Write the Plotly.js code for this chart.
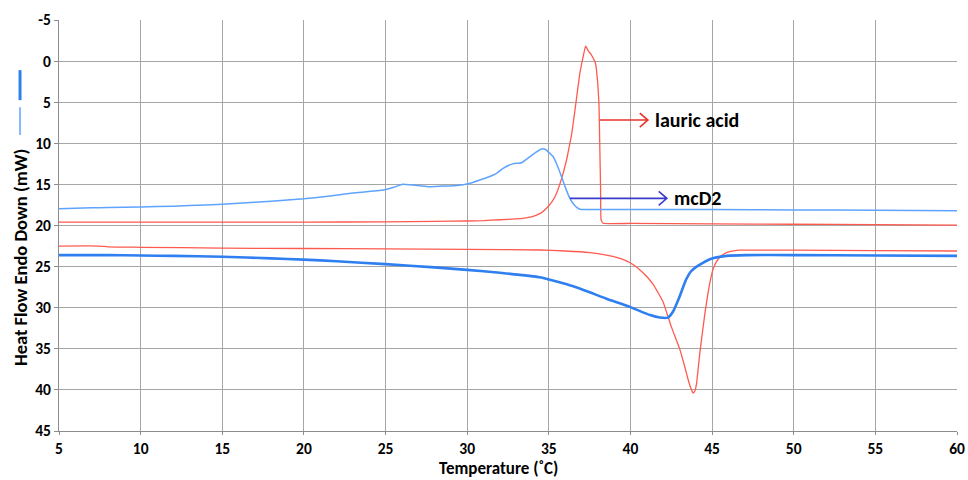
<!DOCTYPE html>
<html><head><meta charset="utf-8">
<script src="https://cdn.plot.ly/plotly-3.0.1.min.js"></script>
<style>html,body{margin:0;padding:0;background:#fff}#chart{width:968px;height:480px}</style>
</head><body><div id="chart"></div>
<script>
// mcD2 heating (thin light blue)
const mcHeatX = [5, 6, 7, 8, 10, 12, 14, 16, 18, 20, 21.6, 23, 24.86, 25.5, 26.0, 26.5, 27.1, 27.7, 28.5, 29.2, 29.76, 30.3, 30.78, 31.3, 31.8, 32.2, 32.8, 33.33, 33.84, 34.2, 34.55, 34.8, 35.0, 35.27, 35.5, 35.78, 36.0, 36.29, 36.6, 36.9, 37.5, 40, 45, 50, 55, 60];
const mcHeatY = [17.95, 17.9, 17.85, 17.82, 17.75, 17.65, 17.5, 17.3, 17.05, 16.75, 16.4, 16.05, 15.68, 15.35, 15.0, 15.05, 15.16, 15.28, 15.2, 15.15, 15.03, 14.8, 14.46, 14.1, 13.65, 13.04, 12.5, 12.36, 11.63, 11.1, 10.69, 10.75, 11.1, 11.63, 12.6, 14.06, 15.3, 16.7, 17.6, 18.03, 18.05, 18.05, 18.05, 18.1, 18.15, 18.2];
// lauric acid heating (thin red)
const laHeatX = [5, 10, 15, 20, 25, 28, 30, 31, 32, 33, 33.5, 34.04, 34.5, 34.86, 35.2, 35.47, 35.78, 36.09, 36.39, 36.6, 36.9, 37.1, 37.25, 37.35, 37.45, 37.6, 37.72, 37.85, 37.92, 38.0, 38.07, 38.1, 38.13, 38.17, 38.2, 38.33, 40, 45, 50, 55, 60];
const laHeatY = [19.6, 19.6, 19.6, 19.6, 19.55, 19.5, 19.45, 19.4, 19.3, 19.2, 19.1, 18.9, 18.5, 17.9, 17.1, 16.1, 14.3, 12.0, 9.0, 6.0, 1.5, -0.5, -1.84, -1.5, -1.15, -0.8, -0.34, 0.2, 1.08, 2.8, 5.13, 8.0, 11.2, 15.5, 19.3, 19.73, 19.75, 19.8, 19.85, 19.9, 19.95];
// lauric acid cooling (thin red)
const laCoolX = [5, 7.5, 8, 10, 15, 20, 25, 30, 34.45, 36, 37.5, 38.53, 39.2, 39.75, 40.2, 40.58, 41.0, 41.4, 42.0, 42.5, 43.03, 43.3, 43.54, 43.7, 43.84, 43.95, 44.05, 44.25, 44.56, 44.86, 45.05, 45.27, 45.5, 45.88, 46.3, 46.7, 48, 50, 55, 60];
const laCoolY = [22.5, 22.5, 22.6, 22.65, 22.75, 22.8, 22.85, 22.9, 22.98, 23.1, 23.3, 23.6, 23.9, 24.3, 24.8, 25.4, 26.2, 27.2, 29.3, 32.3, 35.1, 37.0, 38.8, 39.8, 40.4, 40.1, 39.2, 35.5, 30.7, 27.0, 25.4, 24.4, 23.8, 23.3, 23.1, 23.0, 23.0, 23.0, 23.05, 23.1];
// mcD2 cooling (thick blue)
const mcCoolX = [5, 8, 10, 12, 15, 18, 20, 22, 25, 28, 30, 32, 34.45, 36.5, 38.53, 39.97, 41.2, 41.8, 42.3, 42.6, 43.0, 43.4, 43.7, 44.05, 44.86, 45.88, 47.1, 50, 55, 60];
const mcCoolY = [23.6, 23.6, 23.65, 23.7, 23.8, 24.0, 24.15, 24.35, 24.7, 25.1, 25.4, 25.75, 26.3, 27.4, 28.9, 29.9, 30.9, 31.2, 31.2, 30.5, 28.7, 26.6, 25.6, 25.0, 24.1, 23.7, 23.6, 23.6, 23.65, 23.7];
// labels
const xTicks = [5, 10, 15, 20, 25, 30, 35, 40, 45, 50, 55, 60];
const yTicks = [-5, 0, 5, 10, 15, 20, 25, 30, 35, 40, 45];
const lauricArrow = {x0: 38.13, x1: 41.07, y: 7.17, label: 'lauric acid'};
const mcArrow = {x0: 36.29, x1: 42.23, y: 16.7, label: 'mcD2'};

const FONT = "Carlito, Calibri, 'Liberation Sans Narrow', 'Open Sans', sans-serif";
const RED = '#ff5a4f', THIN_BLUE = '#5ea4ff', THICK_BLUE = '#2f7ff0';

const traces = [
  {x: laCoolX, y: laCoolY, mode: 'lines', line: {color: RED, width: 1.3, shape: 'spline', smoothing: 0.4}},
  {x: laHeatX, y: laHeatY, mode: 'lines', line: {color: RED, width: 1.3, shape: 'spline', smoothing: 0.3}},
  {x: mcHeatX, y: mcHeatY, mode: 'lines', line: {color: THIN_BLUE, width: 1.5, shape: 'spline', smoothing: 0.4}},
  {x: mcCoolX, y: mcCoolY, mode: 'lines', line: {color: THICK_BLUE, width: 2.6, shape: 'spline', smoothing: 0.5}}
];

function arrowPath(a, dx, dy) {
  return `M${a.x0},${a.y} L${a.x1},${a.y} M${a.x1 - dx},${a.y - dy} L${a.x1},${a.y} L${a.x1 - dx},${a.y + dy}`;
}

const tickFont = {family: FONT, size: 15.5, weight: 'bold', color: '#000'};
const layout = {
  width: 968, height: 480,
  margin: {l: 59, r: 11, t: 20, b: 49},
  paper_bgcolor: '#fff', plot_bgcolor: '#fff',
  showlegend: false,
  font: {family: FONT, color: '#000'},
  xaxis: {
    range: [5, 60], tickvals: xTicks, ticktext: xTicks.map(String),
    showgrid: true, gridcolor: '#a6a6a6', gridwidth: 1,
    showline: true, linecolor: '#8c8c8c', linewidth: 1,
    ticks: 'outside', ticklen: 3, tickcolor: '#8c8c8c',
    tickfont: tickFont, zeroline: false
  },
  yaxis: {
    range: [45, -5], tickvals: yTicks, ticktext: yTicks.map(String),
    showgrid: true, gridcolor: '#a6a6a6', gridwidth: 1,
    showline: true, linecolor: '#8c8c8c', linewidth: 1,
    ticks: 'outside', ticklen: 4, tickcolor: '#8c8c8c',
    tickfont: tickFont, zeroline: false
  },
  shapes: [
    {type: 'path', xref: 'x', yref: 'y', path: arrowPath(lauricArrow, 0.5, 0.85), line: {color: '#e8352c', width: 1.6}},
    {type: 'path', xref: 'x', yref: 'y', path: arrowPath(mcArrow, 0.5, 0.85), line: {color: '#3a3acb', width: 1.6}},
    {type: 'line', xref: 'paper', yref: 'paper', x0: -0.0434, x1: -0.0434, y0: 0.878, y1: 0.805, line: {color: THICK_BLUE, width: 3}},
    {type: 'line', xref: 'paper', yref: 'paper', x0: -0.0434, x1: -0.0434, y0: 0.788, y1: 0.720, line: {color: THIN_BLUE, width: 1.5}}
  ],
  annotations: [
    {x: lauricArrow.x1 + 0.3, y: lauricArrow.y, xref: 'x', yref: 'y', xanchor: 'left', yanchor: 'middle', showarrow: false,
     text: lauricArrow.label, font: {family: FONT, size: 20, weight: 'bold', color: '#000'}},
    {x: mcArrow.x1 + 0.3, y: mcArrow.y, xref: 'x', yref: 'y', xanchor: 'left', yanchor: 'middle', showarrow: false,
     text: mcArrow.label, font: {family: FONT, size: 20, weight: 'bold', color: '#000'}},
    {x: -0.0434, y: (431 - 258) / 411, xref: 'paper', yref: 'paper', xanchor: 'center', yanchor: 'middle', textangle: -90, showarrow: false,
     text: 'Heat Flow Endo Down (mW)', font: {family: FONT, size: 18.5, weight: 'bold', color: '#000'}},
    {x: (498 - 59) / 898, y: (431 - 468) / 411, xref: 'paper', yref: 'paper', showarrow: false, xanchor: 'center', yanchor: 'middle',
     text: 'Temperature (˚C)', font: {family: FONT, size: 17, weight: 'bold', color: '#000'}}
  ]
};

Plotly.newPlot('chart', traces, layout, {displayModeBar: false, staticPlot: true});
</script></body></html>
